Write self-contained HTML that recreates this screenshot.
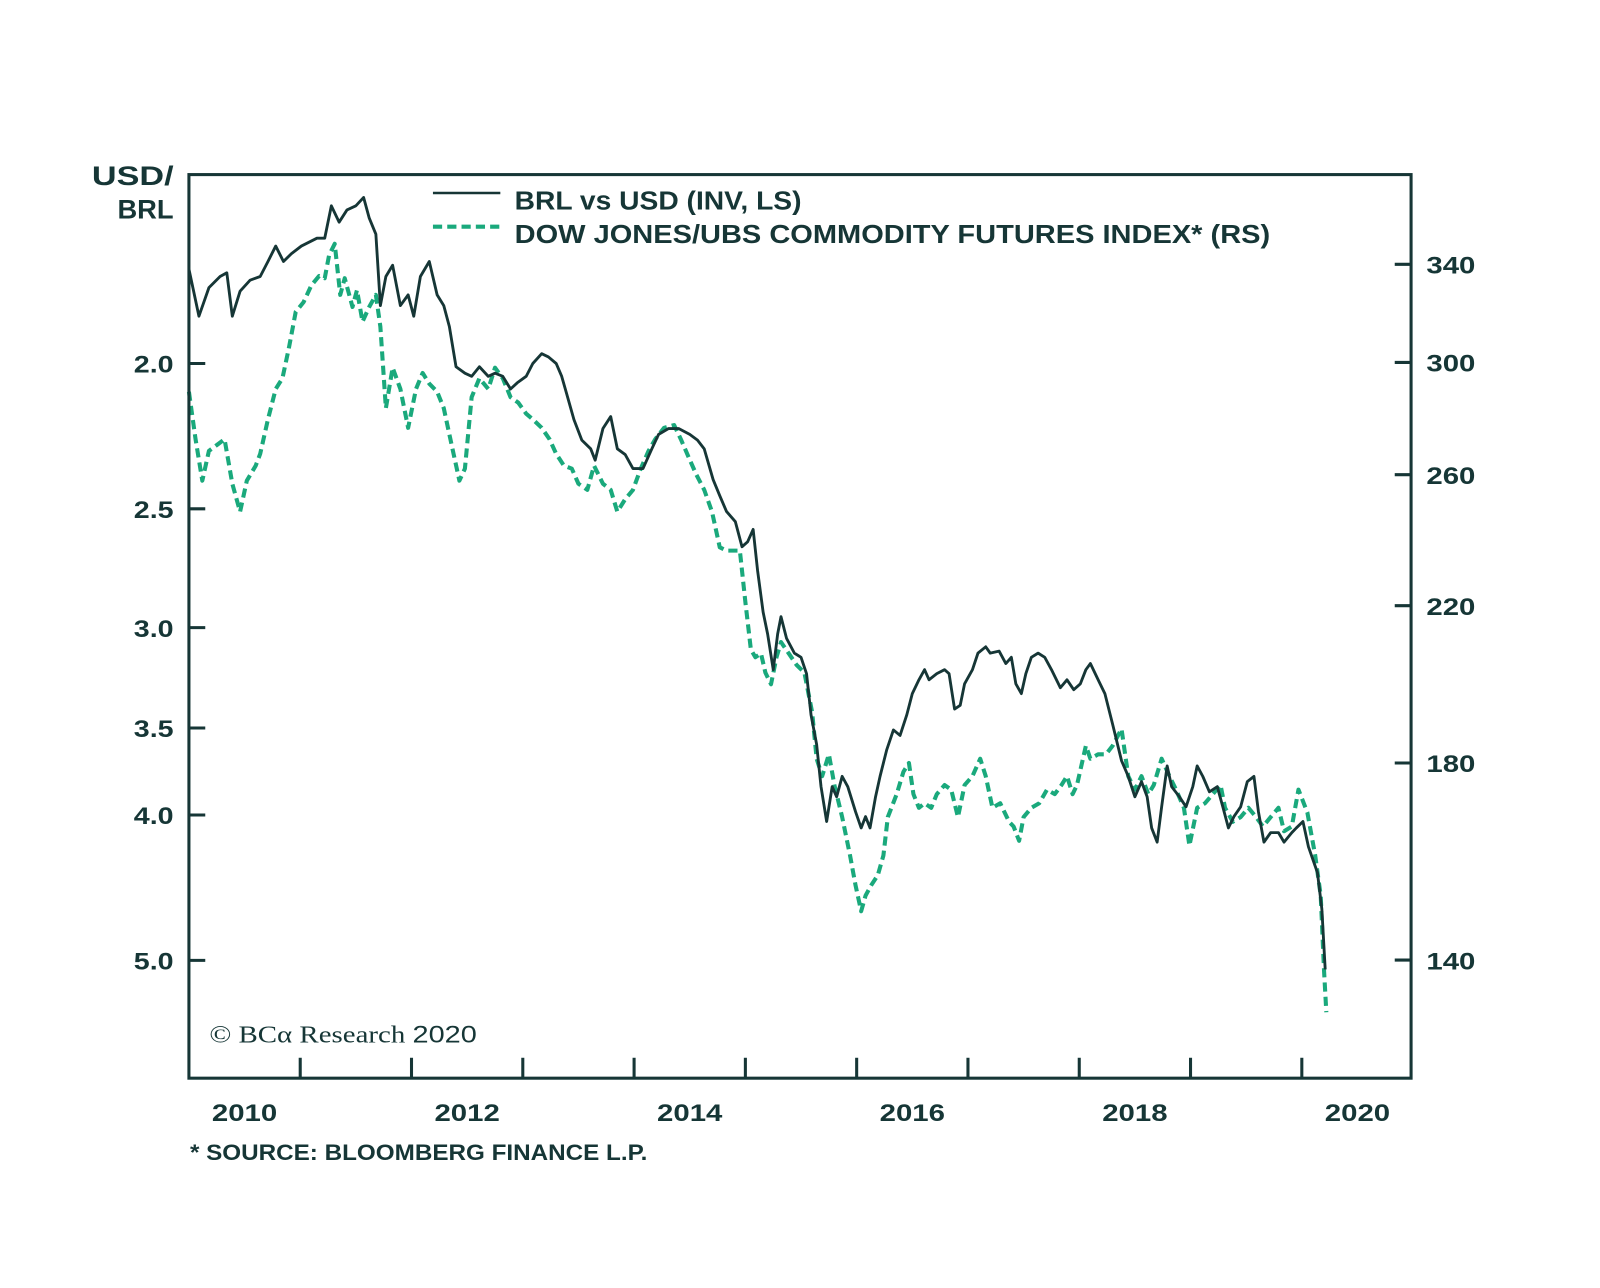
<!DOCTYPE html>
<html><head><meta charset="utf-8">
<style>
html,body{margin:0;padding:0;background:#fff;}
svg{display:block;}
text{font-family:"Liberation Sans",sans-serif;font-weight:bold;fill:#163636;}
</style></head>
<body>
<svg id="chart" width="1600" height="1288" viewBox="0 0 1567 1261.5" xmlns="http://www.w3.org/2000/svg">
  <rect x="0" y="0" width="1567" height="1261.5" fill="#fff"/>
  <g id="series"></g>
  <rect x="185" y="171" width="1197" height="885" fill="none" stroke="#163636" stroke-width="3"/>
  <g id="axes"></g>
  <text x="170" y="181" font-size="26" text-anchor="end" textLength="80" lengthAdjust="spacingAndGlyphs">USD/</text>
  <text x="170" y="214" font-size="26" text-anchor="end" textLength="55" lengthAdjust="spacingAndGlyphs">BRL</text>
  <g>
    <line x1="424" y1="189" x2="490" y2="189" stroke="#163636" stroke-width="2.5"/>
    <text x="504" y="205" font-size="25" textLength="281" lengthAdjust="spacingAndGlyphs">BRL vs USD (INV, LS)</text>
    <line x1="424" y1="222" x2="490" y2="222" stroke="#1aa97c" stroke-width="4" stroke-dasharray="9,5"/>
    <text x="504" y="238" font-size="25" textLength="740" lengthAdjust="spacingAndGlyphs">DOW JONES/UBS COMMODITY FUTURES INDEX* (RS)</text>
  </g>
  <text x="205" y="1021" font-size="24" textLength="262" lengthAdjust="spacingAndGlyphs" style="font-family:'Liberation Serif',serif;font-weight:normal">© BCα Research <tspan style="font-family:'Liberation Sans',sans-serif">2020</tspan></text>
  <text x="186" y="1136" font-size="22" textLength="448" lengthAdjust="spacingAndGlyphs">* SOURCE: BLOOMBERG FINANCE L.P.</text>
</svg>
<script>
const brlDates=[2010.00,2010.09,2010.18,2010.28,2010.34,2010.39,2010.46,2010.55,2010.64,2010.71,2010.78,2010.85,2010.92,2011.01,2011.15,2011.22,2011.28,2011.35,2011.42,2011.50,2011.57,2011.62,2011.68,2011.72,2011.77,2011.83,2011.90,2011.97,2012.02,2012.08,2012.16,2012.23,2012.29,2012.34,2012.40,2012.48,2012.54,2012.61,2012.69,2012.75,2012.82,2012.89,2012.95,2013.03,2013.09,2013.17,2013.23,2013.30,2013.35,2013.39,2013.46,2013.53,2013.61,2013.65,2013.72,2013.79,2013.85,2013.92,2013.99,2014.08,2014.16,2014.22,2014.31,2014.40,2014.50,2014.57,2014.63,2014.71,2014.77,2014.83,2014.91,2014.97,2015.02,2015.07,2015.11,2015.16,2015.20,2015.25,2015.29,2015.32,2015.37,2015.44,2015.50,2015.55,2015.59,2015.64,2015.68,2015.73,2015.78,2015.82,2015.87,2015.92,2015.99,2016.04,2016.08,2016.12,2016.17,2016.21,2016.27,2016.33,2016.39,2016.45,2016.50,2016.56,2016.61,2016.65,2016.72,2016.79,2016.83,2016.88,2016.93,2016.97,2017.04,2017.09,2017.16,2017.20,2017.28,2017.34,2017.39,2017.43,2017.48,2017.52,2017.57,2017.63,2017.69,2017.75,2017.83,2017.89,2017.95,2018.01,2018.06,2018.10,2018.17,2018.23,2018.30,2018.38,2018.44,2018.50,2018.56,2018.61,2018.65,2018.70,2018.74,2018.79,2018.83,2018.90,2018.96,2019.02,2019.06,2019.11,2019.17,2019.24,2019.29,2019.34,2019.39,2019.45,2019.51,2019.57,2019.61,2019.66,2019.72,2019.79,2019.84,2019.91,2019.95,2020.01,2020.06,2020.14,2020.18,2020.21];
const brlValues=[1.73,1.86,1.78,1.75,1.74,1.86,1.79,1.76,1.75,1.71,1.67,1.71,1.69,1.67,1.65,1.65,1.57,1.61,1.58,1.57,1.55,1.60,1.64,1.83,1.75,1.72,1.83,1.80,1.86,1.75,1.71,1.80,1.83,1.89,2.01,2.03,2.04,2.01,2.04,2.03,2.04,2.08,2.06,2.04,2.00,1.97,1.98,2.00,2.04,2.09,2.18,2.25,2.28,2.32,2.21,2.17,2.28,2.30,2.35,2.35,2.28,2.23,2.21,2.21,2.23,2.25,2.28,2.39,2.45,2.51,2.55,2.65,2.63,2.58,2.75,2.93,3.03,3.20,3.03,2.95,3.05,3.12,3.14,3.22,3.43,3.59,3.83,4.04,3.83,3.89,3.77,3.83,3.98,4.08,4.01,4.08,3.89,3.77,3.62,3.51,3.54,3.43,3.32,3.25,3.20,3.25,3.22,3.20,3.22,3.40,3.38,3.27,3.20,3.12,3.09,3.12,3.11,3.17,3.14,3.27,3.32,3.22,3.14,3.12,3.14,3.20,3.29,3.25,3.30,3.27,3.20,3.17,3.25,3.32,3.48,3.68,3.77,3.89,3.80,3.89,4.08,4.17,3.95,3.71,3.83,3.89,3.95,3.83,3.71,3.77,3.86,3.83,3.95,4.08,4.01,3.95,3.80,3.77,3.98,4.17,4.11,4.11,4.17,4.11,4.08,4.04,4.20,4.37,4.62,5.07];
const cmdDates=[2010.00,2010.06,2010.12,2010.18,2010.25,2010.32,2010.39,2010.46,2010.52,2010.60,2010.64,2010.71,2010.78,2010.84,2010.90,2010.96,2011.03,2011.10,2011.17,2011.22,2011.26,2011.31,2011.36,2011.40,2011.47,2011.51,2011.56,2011.62,2011.68,2011.72,2011.77,2011.83,2011.90,2011.97,2012.04,2012.10,2012.16,2012.23,2012.29,2012.35,2012.43,2012.48,2012.54,2012.61,2012.69,2012.75,2012.82,2012.89,2012.96,2013.03,2013.09,2013.17,2013.24,2013.30,2013.37,2013.44,2013.50,2013.58,2013.64,2013.72,2013.79,2013.85,2013.92,2013.99,2014.06,2014.13,2014.19,2014.27,2014.36,2014.42,2014.50,2014.56,2014.63,2014.70,2014.77,2014.83,2014.91,2014.95,2015.00,2015.05,2015.09,2015.14,2015.18,2015.23,2015.28,2015.32,2015.39,2015.46,2015.53,2015.60,2015.64,2015.69,2015.75,2015.80,2015.87,2015.94,2015.99,2016.04,2016.08,2016.13,2016.19,2016.24,2016.28,2016.36,2016.42,2016.47,2016.51,2016.56,2016.61,2016.67,2016.72,2016.79,2016.85,2016.91,2016.97,2017.04,2017.11,2017.16,2017.22,2017.29,2017.37,2017.41,2017.46,2017.50,2017.57,2017.64,2017.71,2017.78,2017.84,2017.89,2017.94,2017.98,2018.06,2018.10,2018.17,2018.24,2018.30,2018.38,2018.44,2018.50,2018.56,2018.62,2018.67,2018.74,2018.81,2018.87,2018.94,2018.99,2019.06,2019.13,2019.20,2019.27,2019.31,2019.38,2019.45,2019.52,2019.59,2019.65,2019.72,2019.79,2019.84,2019.91,2019.97,2020.05,2020.12,2020.17,2020.20,2020.22];
const cmdValues=[289,272,258,268,270,272,257,248,258,263,267,279,290,294,306,320,324,331,335,334,344,349,327,334,322,329,316,322,327,314,283,298,290,276,290,296,292,289,283,272,258,262,287,294,290,298,294,287,285,281,279,276,272,267,263,262,257,255,263,257,255,248,252,255,262,268,272,276,277,272,265,260,255,248,237,236,236,236,221,208,206,207,202,199,206,210,207,204,202,192,181,177,182,175,168,160,154,149,152,154,156,160,168,173,178,180,173,170,171,170,173,175,174,168,175,177,181,177,170,171,167,166,163,168,170,171,174,173,175,177,173,175,184,181,182,182,184,188,177,174,177,173,175,181,177,174,170,162,170,171,173,175,170,167,168,170,168,166,168,170,165,166,174,169,160,152,138,131];
const leftTicks=[2.0,2.5,3.0,3.5,4.0,5.0];
const leftTickLabels=["2.0","2.5","3.0","3.5","4.0","5.0"];
const rightTicks=[340,300,260,220,180,140];
const rightTickLabels=["340","300","260","220","180","140"];
const yearTicks=[2011,2012,2013,2014,2015,2016,2017,2018,2019,2020];
const yearLabels=["2010","2012","2014","2016","2018","2020"];

const X0=185, PXY=109;
function xScale(t){return X0+(t-2010)*PXY;}
function yLeft(v){return 356+(Math.log(v)-Math.log(2))*638;}
function yRight(v){return 355-(Math.log(v)-Math.log(300))*768;}

const NS="http://www.w3.org/2000/svg";
const series=document.getElementById('series');
const axes=document.getElementById('axes');
function mk(tag,attrs,parent){const e=document.createElementNS(NS,tag);for(const k in attrs)e.setAttribute(k,attrs[k]);parent.appendChild(e);return e;}

let d1=brlDates.map((t,i)=>(i?'L':'M')+xScale(t).toFixed(1)+','+yLeft(brlValues[i]).toFixed(1)).join(' ');
let d2=cmdDates.map((t,i)=>(i?'L':'M')+xScale(t).toFixed(1)+','+yRight(cmdValues[i]).toFixed(1)).join(' ');
const p2=mk('path',{d:d2,fill:'none',stroke:'#1aa97c','stroke-width':4,'stroke-dasharray':'9,5','stroke-linejoin':'round'},series);


const p1=mk('path',{d:d1,fill:'none',stroke:'#163636','stroke-width':2.8,'stroke-linejoin':'round'},series);



leftTicks.forEach((v,i)=>{const y=yLeft(v);
 const l=mk('line',{x1:185,x2:201,y1:y,y2:y,stroke:'#163636','stroke-width':3},axes);
 
 
 const t=mk('text',{x:170,y:y+9,'font-size':24,'text-anchor':'end',textLength:39,lengthAdjust:'spacingAndGlyphs'},axes);t.textContent=leftTickLabels[i];
 
 
});
rightTicks.forEach((v,i)=>{const y=yRight(v);
 const l=mk('line',{x1:1366,x2:1382,y1:y,y2:y,stroke:'#163636','stroke-width':3},axes);
 
 
 const t=mk('text',{x:1397,y:y+9,'font-size':24,'text-anchor':'start',textLength:48,lengthAdjust:'spacingAndGlyphs'},axes);t.textContent=rightTickLabels[i];
 
 
});
yearTicks.forEach(yr=>{const x=xScale(yr);
 const l=mk('line',{x1:x,x2:x,y1:1036,y2:1056,stroke:'#163636','stroke-width':3},axes);
 
 
});
yearLabels.forEach(s=>{const x=xScale(parseInt(s)+0.5);
 const t=mk('text',{x:x-32,y:1098,'font-size':24,'text-anchor':'start',textLength:64,lengthAdjust:'spacingAndGlyphs'},axes);t.textContent=s;
 
 
});
</script>
</body></html>
